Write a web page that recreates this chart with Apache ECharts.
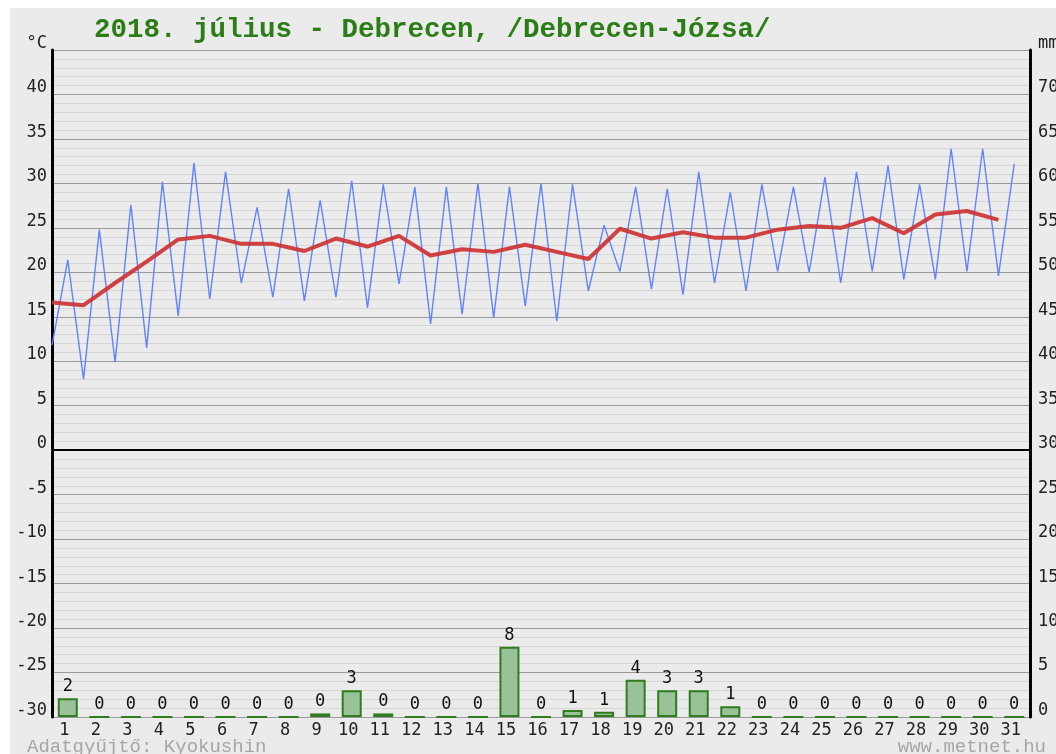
<!DOCTYPE html>
<html><head><meta charset="utf-8">
<script src="https://cdn.jsdelivr.net/npm/echarts@6/dist/echarts.min.js"></script>
<style>
html,body{margin:0;padding:0;background:#fff;width:1056px;height:754px;overflow:hidden}
#c{position:absolute;left:10px;top:8px;width:1046px;height:746px}
</style></head>
<body><div id="c"></div>
<script>
// ---- data ----
const days = ['1','2','3','4','5','6','7','8','9','10','11','12','13','14','15','16','17','18','19','20','21','22','23','24','25','26','27','28','29','30','31'];
const tMin = [11.8, 8.0, 9.9, 11.5, 15.1, 17.0, 18.8, 17.2, 16.8, 17.2, 16.0, 18.7, 14.2, 15.3, 14.9, 16.2, 14.5, 17.9, 20.1, 18.1, 17.5, 18.8, 17.9, 20.1, 20.0, 18.8, 20.1, 19.2, 19.2, 20.1, 19.6];
const tMax = [21.4, 24.8, 27.6, 30.2, 32.3, 31.3, 27.3, 29.4, 28.1, 30.3, 29.9, 29.6, 29.6, 30.0, 29.6, 30.0, 29.9, 25.3, 29.6, 29.4, 31.3, 29.0, 29.9, 29.6, 30.7, 31.3, 32.0, 29.9, 33.9, 33.9, 32.2];
const tMean = [16.6, 16.3, 18.8, 21.2, 23.7, 24.1, 23.2, 23.2, 22.4, 23.8, 22.9, 24.1, 21.9, 22.6, 22.3, 23.1, 22.3, 21.5, 24.9, 23.8, 24.5, 23.9, 23.9, 24.8, 25.2, 25.0, 26.1, 24.4, 26.5, 26.9, 25.9];
const precip = [2.1, 0, 0, 0, 0, 0, 0, 0, 0.4, 3.0, 0.4, 0, 0, 0, 7.9, 0, 0.8, 0.6, 4.2, 3.0, 3.0, 1.2, 0, 0, 0, 0, 0, 0, 0, 0, 0];
const titleText = '2018. július - Debrecen, /Debrecen-Józsa/';
const leftUnit = '°C';
const rightUnit = 'mm';
const footerLeft = 'Adatgyűjtő: Kyokushin';
const footerRight = 'www.metnet.hu';

// ---- build ----
const blue = [];
days.forEach((d, i) => { blue.push([i, tMin[i]]); blue.push([i + 0.5, tMax[i]]); });
const red = days.map((d, i) => [i, tMean[i]]);

const labelFont = 'DejaVu Sans Mono';
const serifMono = 'Liberation Mono';
const chart = echarts.init(document.getElementById('c'), null, {renderer: 'canvas'});
chart.setOption({
  animation: false,
  backgroundColor: '#ebebeb',
  grid: {left: 42, right: 26, top: 42, bottom: 37, containLabel: false, outerBoundsMode: 'none'},
  graphic: [
    {type: 'text', left: 84, top: 8, style: {text: titleText, fontFamily: serifMono, fontSize: 27.5, fontWeight: 'bold', fill: '#2b7d16'}},
    {type: 'text', left: 17, top: 729, style: {text: footerLeft, fontFamily: serifMono, fontSize: 19, fill: '#a6a6a6'}},
    {type: 'text', right: 10, top: 729, style: {text: footerRight, fontFamily: serifMono, fontSize: 19, fill: '#a6a6a6'}}
  ],
  xAxis: [
    {type: 'category', data: days, boundaryGap: true,
     axisLine: {show: true, lineStyle: {color: '#a0a0a0', width: 1}},
     axisTick: {show: false}, splitLine: {show: false},
     axisLabel: {margin: 5, color: '#222', fontFamily: labelFont, fontSize: 17, interval: 0, padding: [0, 7, 0, 0]}},
    {type: 'value', min: 0, max: 31, show: false, splitLine: {show: false}}
  ],
  yAxis: [
    {type: 'value', min: -30, max: 45, interval: 5, position: 'left',
     axisLine: {show: true, onZero: false, lineStyle: {color: '#000', width: 3}},
     axisTick: {show: false},
     axisLabel: {margin: 5, color: '#222', fontFamily: labelFont, fontSize: 17, verticalAlign: 'bottom', lineHeight: 13,
       formatter: v => v === 45 ? leftUnit : String(v)},
     splitLine: {show: true, lineStyle: {color: '#9a9a9a', width: 1}},
     minorTick: {show: false, splitNumber: 5},
     minorSplitLine: {show: true, lineStyle: {color: '#d6d6d6', width: 1}}},
    {type: 'value', min: 0, max: 75, interval: 5, position: 'right',
     axisLine: {show: true, onZero: false, lineStyle: {color: '#000', width: 3}},
     axisTick: {show: false},
     axisLabel: {margin: 8, color: '#222', fontFamily: labelFont, fontSize: 17, verticalAlign: 'bottom', lineHeight: 13, align: 'left',
       formatter: v => v === 75 ? rightUnit : String(v)},
     splitLine: {show: false}}
  ],
  series: [
    {type: 'bar', xAxisIndex: 0, yAxisIndex: 1, data: precip, barWidth: 20, z: 2,
     itemStyle: {color: '#99c299', borderColor: '#2f7d1f', borderWidth: 2},
     label: {show: true, position: 'top', distance: 3, color: '#111', fontFamily: labelFont, fontSize: 17,
       formatter: p => String(Math.round(p.value))}},
    {type: 'line', xAxisIndex: 1, yAxisIndex: 0, data: blue, symbol: 'none', z: 3,
     lineStyle: {color: '#6183ff', width: 1.4}},
    {type: 'line', xAxisIndex: 1, yAxisIndex: 0, data: red, symbol: 'none', z: 4,
     lineStyle: {color: 'rgba(205,50,50,0.92)', width: 4},
     markLine: {silent: true, symbol: 'none', label: {show: false},
       lineStyle: {color: '#000', width: 2, type: 'solid'}, data: [{yAxis: 0}]}}
  ]
});
</script>
</body></html>
